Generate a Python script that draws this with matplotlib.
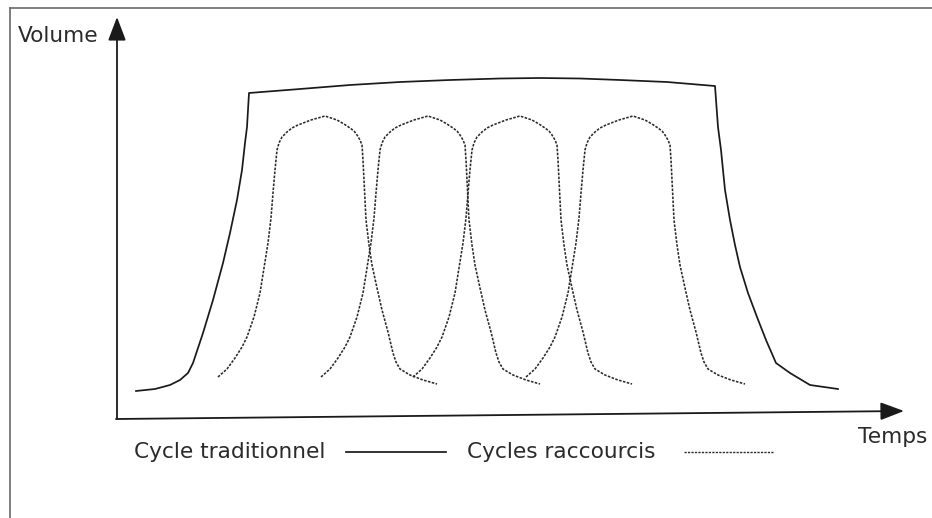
"""Cycle traditionnel vs cycles raccourcis — schéma volume / temps."""

import matplotlib.pyplot as plt

# picture units: x = temps (px), y = volume (px, counted downward)
trad_t = [136, 155, 170, 180, 188, 193, 203, 213, 223, 230, 237, 242, 245,
          247, 248, 249,
          300, 350, 400, 450, 500, 540, 580, 620, 667, 715,
          718, 721, 725, 730, 735, 740, 748, 757, 766, 776, 790, 810, 838]
trad_v = [391, 389, 385, 380, 373, 363, 333, 300, 263, 233, 200, 170, 143,
          127, 110, 93,
          89, 85, 82, 80, 78.5, 78, 78.5, 80, 82, 86,
          127, 150, 190, 220, 245, 267, 293, 317, 340, 363, 373, 385, 389]

# one short cycle, x relative to its start
short_dt = [0, 9, 17, 24, 29, 36, 42, 46, 50, 53, 55, 57, 59, 61, 64, 69, 74,
            80, 93, 107, 119, 126, 132, 136, 139, 142, 144,
            145, 146, 148, 151, 154, 159, 164, 170, 175, 178, 182, 192, 205, 219]
short_v = [377, 369, 358, 347, 337, 317, 293, 268, 243, 218, 193, 170, 150,
           143, 137, 132, 128, 125, 120, 116, 120, 124, 128, 131, 135, 140, 145,
           160, 180, 220, 245, 265, 288, 310, 332, 353, 362, 369, 375, 380, 384]
short_starts = [218, 321, 413, 526]

ink = "#1a1a1a"
txt = "#2b2b2b"
dots = (0, (1.6, 0.9))

fig = plt.figure(figsize=(9.32, 5.18), dpi=100)
ax = fig.add_axes([0, 0, 1, 1])
ax.set_xlim(0, 932)
ax.set_ylim(518, 0)
ax.axis("off")

# frame (top + left edges only)
ax.plot([10, 932], [8, 8], color="#6a6a6a", lw=1.2)
ax.plot([10, 10], [8, 518], color="#6a6a6a", lw=1.2)

# axes with arrows
arrow = dict(arrowstyle="-|>,head_length=1.45,head_width=0.55", color=ink,
             lw=1.3, mutation_scale=10, shrinkA=0, shrinkB=0)
ax.annotate("", xy=(117, 17), xytext=(117, 419), arrowprops=arrow)
ax.annotate("", xy=(904, 411), xytext=(116, 419), arrowprops=arrow)

ax.plot(trad_t, trad_v, color=ink, lw=1.25, solid_joinstyle="round")
for x0 in short_starts:
    ax.plot([x0 + d for d in short_dt], short_v, color="#2a2a2a", lw=1.15,
            linestyle=dots)

font = dict(family="DejaVu Sans", fontsize=15.6, color=txt, va="baseline")
ax.text(18, 42, "Volume", **font)
ax.text(858, 443, "Temps", **font)
ax.text(134, 458, "Cycle traditionnel", **font)
ax.text(467, 458, "Cycles raccourcis", **font)

# legend samples
ax.plot([346, 446], [452, 452], color=ink, lw=1.25)
ax.plot([684, 773], [452, 452], color="#2a2a2a", lw=1.0, linestyle=dots)

fig.savefig("out.png", dpi=100)
plt.close(fig)
